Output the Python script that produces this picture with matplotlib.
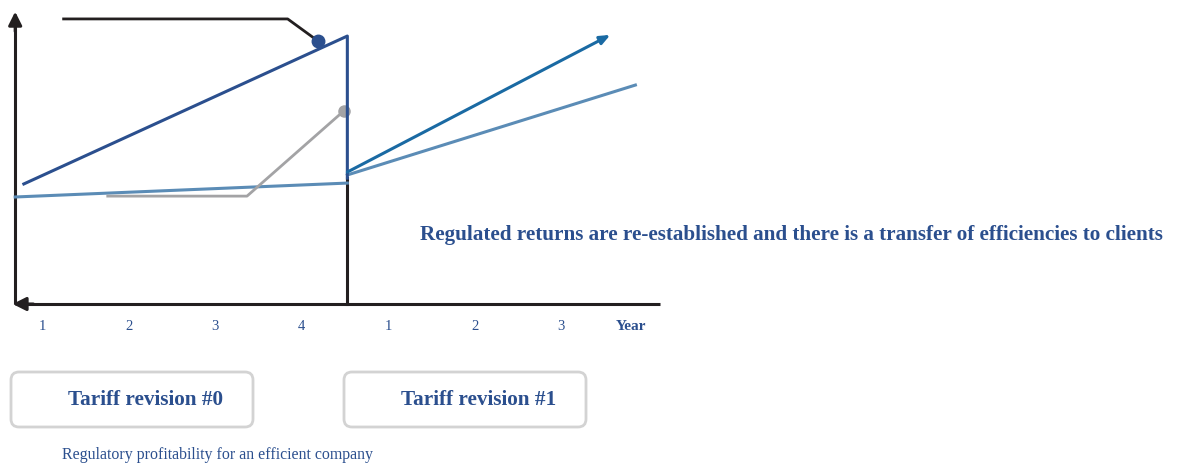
import matplotlib
matplotlib.use("Agg")
import matplotlib.pyplot as plt
from matplotlib.patches import FancyBboxPatch

# ---- data (x in year positions, y in arbitrary return units) ----
year_labels = ["1", "2", "3", "4", "1", "2", "3"]
year_pos = [1, 2, 3, 4, 5, 6, 7]
divider_x = 4.53

# Regulated return, revision #0 (rising) and drop at the revision
reg0_x = [0.79, divider_x, divider_x]
reg0_y = [41.4, 92.4, 43.4]
# Efficient company return (light blue) before / after revision
eff0_x = [0.69, divider_x]
eff0_y = [36.9, 41.7]
eff1_x = [divider_x, 7.86]
eff1_y = [44.5, 75.5]
# Gray path
gray_x = [1.76, 3.37, 4.49]
gray_y = [37.2, 37.2, 66.6]
# Arrow after revision
arr_x = [divider_x, 7.57]
arr_y = [45.5, 92.8]
# Callout line
call_x = [1.25, 3.84, 4.19]
call_y = [98.3, 98.3, 90.7]

W, H = 1181, 463
fig = plt.figure(figsize=(W / 100, H / 100), dpi=100)
ax = fig.add_axes([0, 0, 1, 1])
px0, step = 42, 86.5
ax.set_xlim(1 - px0 / step, 1 + (W - px0) / step)
ax.set_ylim((304 - H) / 2.9, 304 / 2.9)
ax.axis("off")
renderer = fig.canvas.get_renderer()


def fit(t, width_px):
    bb = t.get_window_extent(renderer)
    t.set_fontsize(t.get_fontsize() * width_px / bb.width)


dark = "#2b4f8e"
light = "#5b8cb6"
teal = "#1a6aa3"
gray = "#a3a3a5"
txtc = "#2b4f8e"
axc = "#231f20"

# axes
ax.plot([0.69, 0.69], [0, 96], color=axc, lw=2.2, solid_capstyle="butt")
ax.annotate("", xy=(0.69, 100.8), xytext=(0.69, 94),
            arrowprops=dict(arrowstyle="-|>,head_length=0.8,head_width=0.4", color=axc, lw=2.2,
                            shrinkA=0, shrinkB=0))
ax.plot([0.78, 8.15], [0, 0], color=axc, lw=2.2, solid_capstyle="butt")
ax.annotate("", xy=(0.66, 0), xytext=(0.9, 0),
            arrowprops=dict(arrowstyle="-|>,head_length=0.8,head_width=0.4", color=axc, lw=2.2,
                            shrinkA=0, shrinkB=0))
ax.plot([divider_x, divider_x], [0, 43.4], color=axc, lw=2.2)

# lines
ax.plot(eff0_x, eff0_y, color=light, lw=2.2)
ax.plot(eff1_x, eff1_y, color=light, lw=2.2)
ax.plot(gray_x, gray_y, color=gray, lw=2)
ax.plot(gray_x[-1], gray_y[-1], "o", color=gray, ms=8)
ax.plot(reg0_x, reg0_y, color=dark, lw=2.2)
ax.plot(call_x, call_y, color=axc, lw=2)
ax.plot(call_x[-1], call_y[-1], "o", color=dark, ms=9)
ax.annotate("", xy=(arr_x[1], arr_y[1]), xytext=(arr_x[0], arr_y[0]),
            arrowprops=dict(arrowstyle="-|>,head_length=0.6,head_width=0.25", color=teal, lw=2.2,
                            shrinkA=0, shrinkB=0))

# tick labels
for p, lab in zip(year_pos, year_labels):
    ax.text(p, -7.6, lab, ha="center", va="center", family="Liberation Serif", fontsize=10.5, color=txtc)
ax.text(7.81, -7.8, "Year", ha="center", va="center", family="Liberation Serif", fontsize=11,
        fontweight="bold", color=txtc)

t = ax.text(5.37, 23.9,
            "Regulated returns are re-established and there is a transfer of efficiencies to clients",
            ha="left", va="center", family="Liberation Serif", fontsize=13.5, fontweight="bold", color=txtc)
fit(t, 748)

# overlay pixel axes for boxes
ax2 = fig.add_axes([0, 0, 1, 1])
ax2.set_xlim(0, W)
ax2.set_ylim(H, 0)
ax2.axis("off")
for (x0, x1, tx, label) in [(11, 253, 146, "Tariff revision #0"), (344, 586, 479, "Tariff revision #1")]:
    box = FancyBboxPatch((x0 + 8, 380), x1 - x0 - 16, 39, boxstyle="round,pad=8",
                         fc="white", ec="#d3d3d3", lw=2)
    ax2.add_patch(box)
    tt = ax2.text(tx, 400, label, ha="center", va="center", family="Liberation Serif",
                  fontsize=14, fontweight="bold", color=txtc)
    fit(tt, 156)
tc = ax2.text(62, 455, "Regulatory profitability for an efficient company", ha="left", va="center",
              family="Liberation Serif", fontsize=11, color=txtc)
fit(tc, 312)

fig.savefig("out.png", dpi=100)
